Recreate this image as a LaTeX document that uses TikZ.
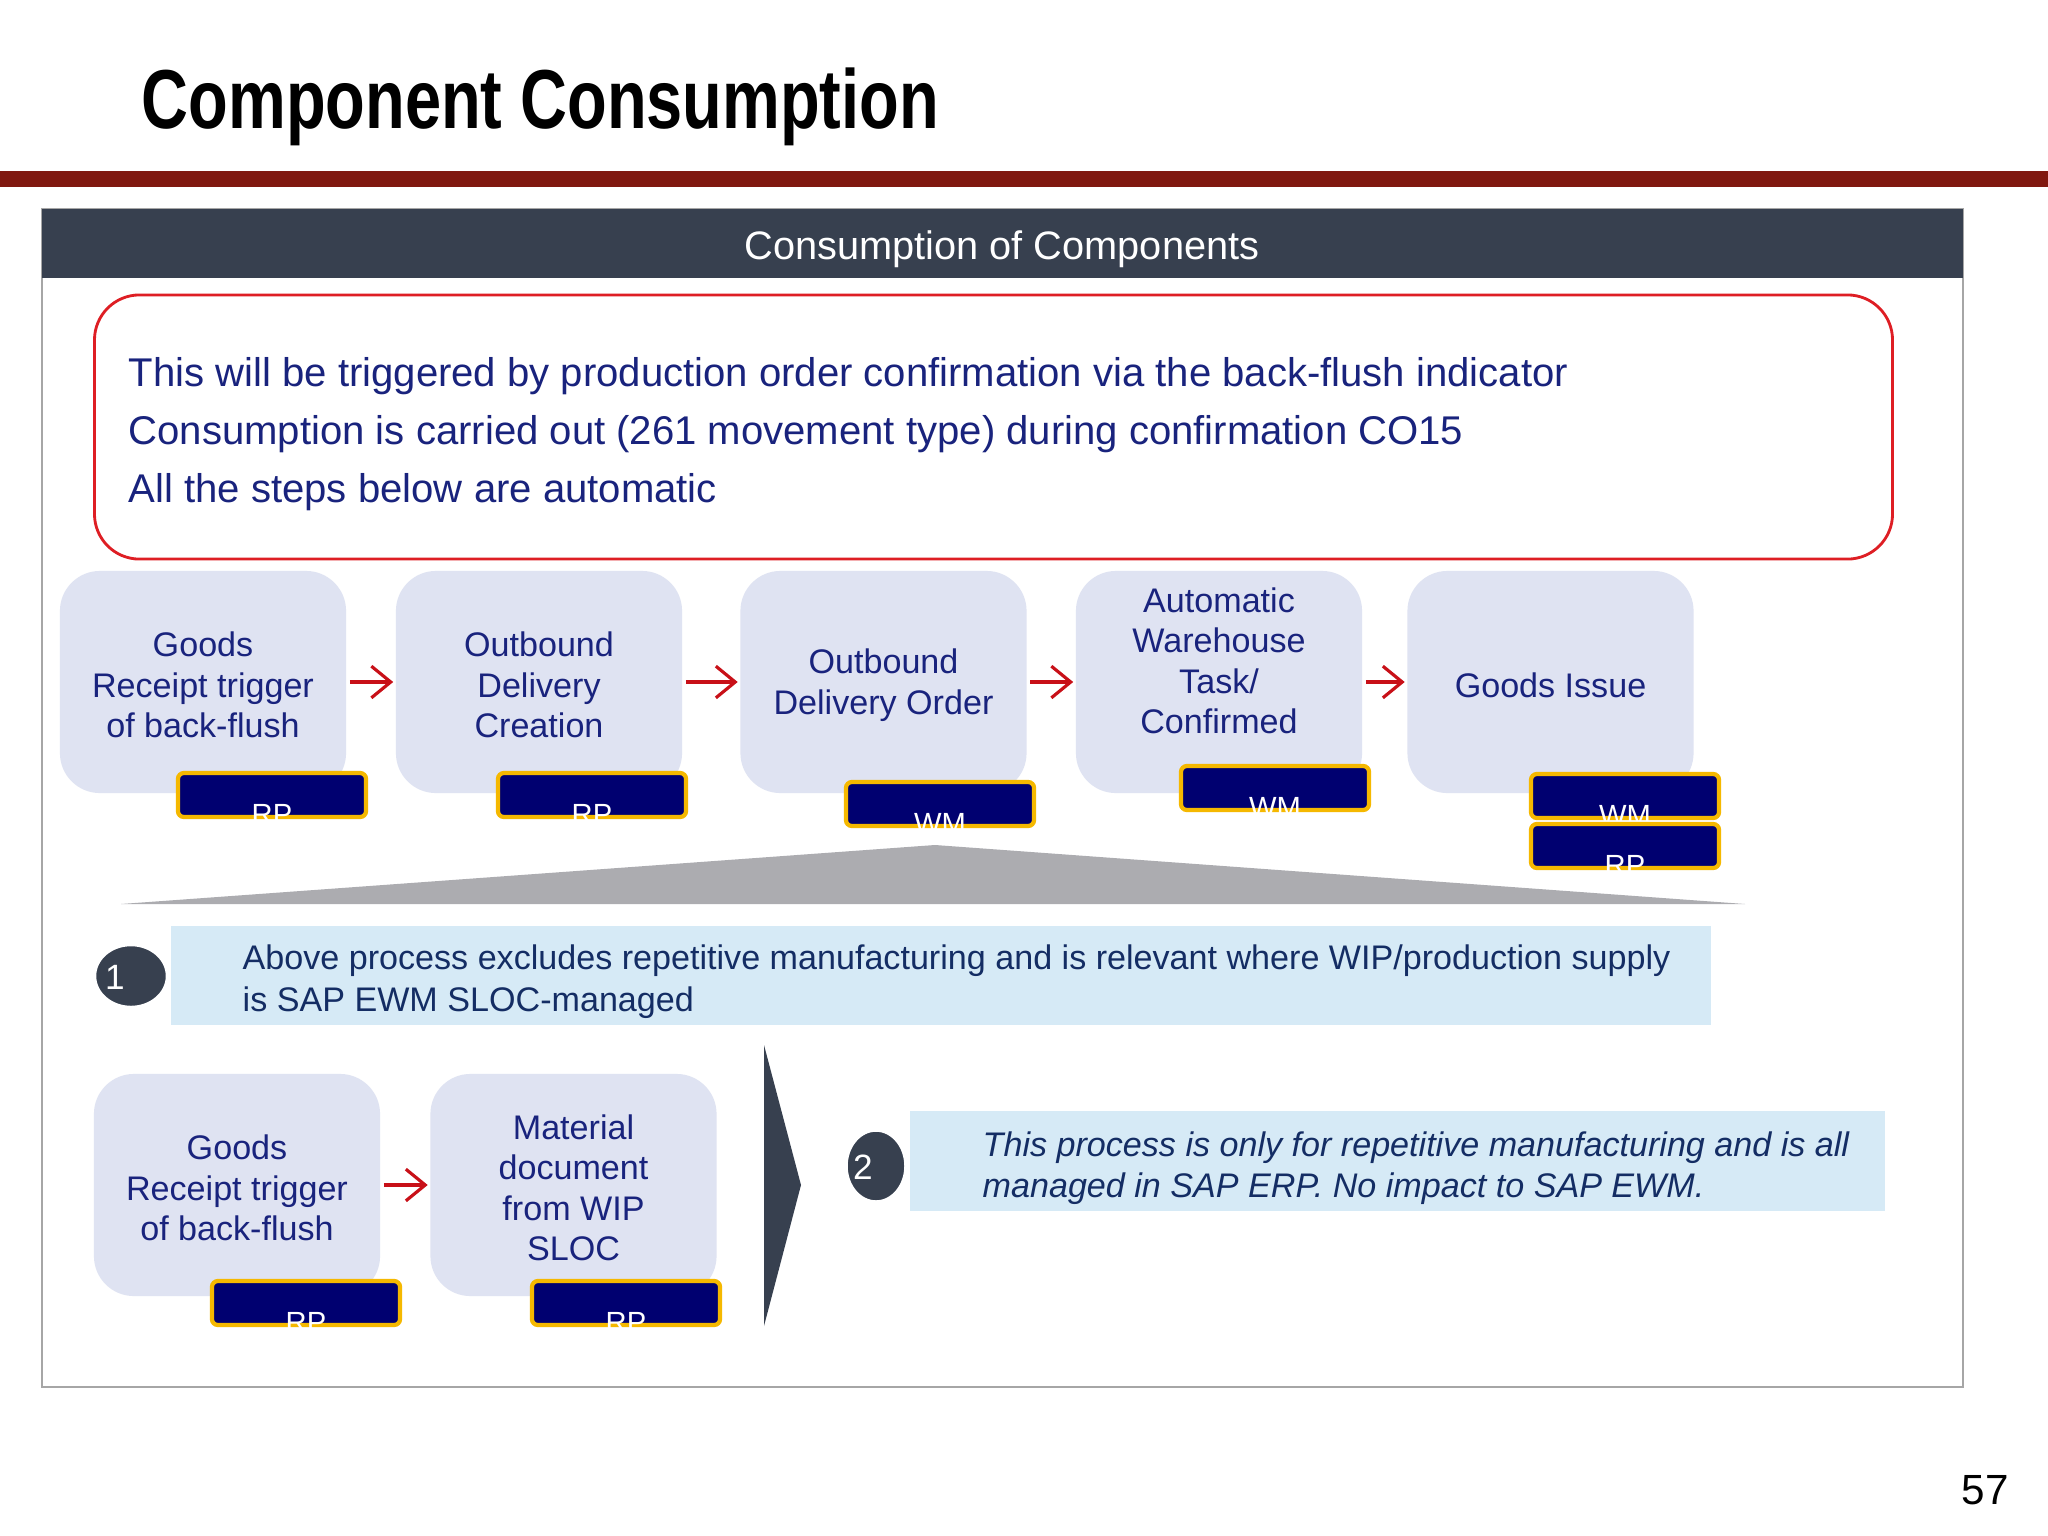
\documentclass[tikz,border=0pt]{standalone}
\usepackage{fontspec}
\setmainfont{Liberation Sans}
\usetikzlibrary{arrows.meta,shapes.geometric}
\definecolor{navy}{RGB}{25,35,125}
\definecolor{notetext}{RGB}{20,45,100}
\definecolor{hdr}{RGB}{55,64,79}
\definecolor{bandred}{RGB}{128,24,16}
\definecolor{redline}{RGB}{222,30,36}
\definecolor{arrowred}{RGB}{200,16,24}
\definecolor{boxfill}{RGB}{223,227,242}
\definecolor{badgefill}{RGB}{0,0,112}
\definecolor{badgeedge}{RGB}{245,184,0}
\definecolor{trigray}{RGB}{172,172,176}
\definecolor{noteblue}{RGB}{214,234,246}
\newcommand\mybadge[4]{%
  \node[badge] (#1) at (#2,#3) {};
  \begin{scope}
    \clip ([xshift=-0.03cm,yshift=-0.03cm]#1.south west) rectangle ([xshift=0.03cm,yshift=0.03cm]#1.north east);
    \node[badgetext, anchor=base] (#1t) at ([yshift=-0.05cm]#1.south) {#4};
  \end{scope}}
\begin{document}
\begin{tikzpicture}[x=0.01cm,y=-0.01cm,
  procbox/.style={fill=boxfill, rounded corners=0.4cm, minimum width=2.86cm, minimum height=2.22cm, inner sep=0},
  boxtext/.style={inner sep=0, align=center, text=navy, font=\fontsize{9.7}{11.5}\selectfont},
  badge/.style={fill=badgefill, draw=badgeedge, line width=1.2pt, rounded corners=0.06cm, minimum width=1.88cm, minimum height=0.44cm, inner sep=0},
  badgetext/.style={inner sep=0, text=white, font=\fontsize{8.3}{10}\selectfont},
  flow/.style={draw=arrowred, line width=0.9pt, -{Straight Barb[length=5.5pt,width=9pt]}, shorten <=0.03cm, shorten >=0.02cm},
  notebox/.style={fill=noteblue, inner sep=0},
  notetxt/.style={inner sep=0, anchor=west, align=left, text=notetext, font=\fontsize{9.7}{11.9}\selectfont},
  marker/.style={ellipse, fill=hdr, draw=white, line width=1pt, inner sep=0},
  markertxt/.style={inner sep=0, text=white, font=\fontsize{10}{12}\selectfont}
]
\useasboundingbox (0,0) rectangle (2048,1536);
\fill[white] (0,0) rectangle (2048,1536);

% title
\node[anchor=base west, inner sep=0, font=\bfseries\fontsize{23.8}{28}\selectfont] (title) at (141,128) {\scalebox{0.776}[1]{Component Consumption}};
\fill[bandred] (0,171) rectangle (2048,187);

% panel
\node[draw=gray!70, line width=0.6pt, minimum width=19.19cm, minimum height=11.78cm, inner sep=0] (panel) at (1002.5,798) {};
\node[fill=hdr, minimum width=19.19cm, minimum height=0.69cm, inner sep=0] (header) at (1002.5,243.5) {};
\node[inner sep=0, text=white, font=\fontsize{11.3}{13}\selectfont] (headertext) at (1002,249) {Consumption of Components};

% intro box
\node[draw=redline, line width=0.8pt, rounded corners=0.45cm, minimum width=17.97cm, minimum height=2.64cm, inner sep=0] (intro) at (993.5,427) {};
\node[anchor=west, align=left, inner sep=0, text=navy, font=\fontsize{11.4}{16.4}\selectfont] (introtext) at (128,434)
  {This will be triggered by production order confirmation via the back-flush indicator\\
   Consumption is carried out (261 movement type) during confirmation CO15\\
   All the steps below are automatic};

% first process row
\node[procbox] (p1) at (203,682) {};
\node[boxtext] (p1t) at (203,685) {Goods\\Receipt trigger\\of back-flush};
\node[procbox] (p2) at (539,682) {};
\node[boxtext] (p2t) at (539,685) {Outbound\\Delivery\\Creation};
\node[procbox] (p3) at (883.5,682) {};
\node[boxtext] (p3t) at (883.5,685) {Outbound\\Delivery Order};
\node[procbox] (p4) at (1219,682) {};
\node[boxtext] (p4t) at (1219,661) {Automatic\\Warehouse\\Task/\\Confirmed};
\node[procbox] (p5) at (1550.5,682) {};
\node[boxtext] (p5t) at (1550.5,685) {Goods Issue};
\draw[flow] (p1) -- (p2);
\draw[flow] (p2) -- (p3);
\draw[flow] (p3) -- (p4);
\draw[flow] (p4) -- (p5);

\mybadge{r1}{272}{795}{RP}
\mybadge{r2}{592}{795}{RP}
\mybadge{r3}{940}{804}{WM}
\mybadge{r4}{1275}{788}{WM}
\mybadge{r5}{1625}{796}{WM}
\mybadge{r6}{1625}{846}{RP}

% gray wedge
\fill[trigray] (121,904) -- (935,845) -- (1745,904) -- cycle;

% note 1
\node[notebox, minimum width=15.40cm, minimum height=0.99cm] (note1) at (941,975.5) {};
\node[marker, minimum width=0.73cm, minimum height=0.63cm] (m1) at (131,976) {};
\node[markertxt] (m1t) at (115,977) {1};
\node[notetxt] (note1t) at (242,982) {Above process excludes repetitive manufacturing and is relevant where WIP/production supply\\is SAP EWM SLOC-managed};

% second process row
\node[procbox] (q1) at (237,1185) {};
\node[boxtext] (q1t) at (237,1188) {Goods\\Receipt trigger\\of back-flush};
\node[procbox] (q2) at (573.5,1185) {};
\node[boxtext] (q2t) at (573.5,1188) {Material\\document\\from WIP\\SLOC};
\draw[flow] (q1) -- (q2);
\mybadge{s1}{306}{1303}{RP}
\mybadge{s2}{626}{1303}{RP}

% chevron
\fill[hdr] (764,1045) -- (801,1185) -- (764,1326) -- cycle;

% note 2
\node[notebox, minimum width=9.75cm, minimum height=1.0cm] (note2) at (1397.5,1161) {};
\node[marker, minimum width=0.60cm, minimum height=0.72cm] (m2) at (876,1166) {};
\node[markertxt] (m2t) at (863,1167) {2};
\node[notetxt, font=\itshape\fontsize{9.7}{11.7}\selectfont] (note2t) at (982,1168) {This process is only for repetitive manufacturing and is all\\managed in SAP ERP. No impact to SAP EWM.};

% page number
\node[inner sep=0, font=\fontsize{12}{14}\selectfont] (page) at (1985,1490) {57};
\end{tikzpicture}
\end{document}
